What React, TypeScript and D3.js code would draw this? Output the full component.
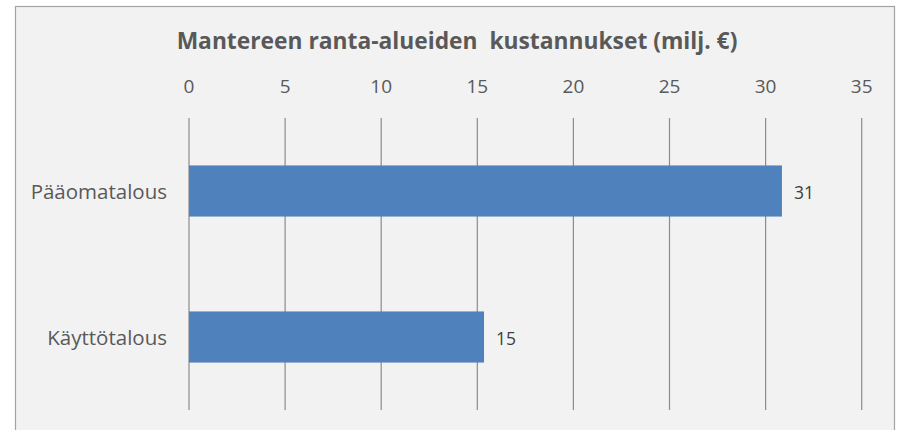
import React from "react";
import * as d3 from "d3";

// chart values
const categories = ["Pääomatalous", "Käyttötalous"];
const values = [30.85, 15.35];
const xTicks = [0, 5, 10, 15, 20, 25, 30, 35];
const title = "Mantereen ranta-alueiden\u00a0 kustannukset (milj. €)";

const W = 901;
const H = 430;
const font = "'Open Sans', 'Liberation Sans', sans-serif";

export default function App() {
  // plot area
  const left = 189;
  const right = 861.7;
  const top = 118;
  const bottom = 410;

  const x = d3.scaleLinear().domain([0, 35]).range([left, right]);
  const y = d3.scaleBand<string>().domain(categories).range([top, bottom]).padding(0);
  const barH = y.bandwidth() * 0.35;
  const fmt = d3.format(".0f");

  return (
    <svg
      width={W}
      height={H}
      style={{ position: "absolute", left: 0, top: 0, fontFamily: font }}
    >
      <rect x={0} y={0} width={W} height={H} fill="#ffffff" />
      {/* chart box */}
      <rect x={15.5} y={6.5} width={879} height={440} fill="#f2f2f2" stroke="#a3a3a3" strokeWidth={1.2} />

      {/* title */}
      <text
        x={457}
        y={49}
        textAnchor="middle"
        fontSize={22.8}
        fontWeight="bold"
        fill="#595959"
        style={{ whiteSpace: "pre" }}
      >
        {title}
      </text>

      {/* vertical grid lines + top tick labels */}
      {xTicks.map((t) => (
        <g key={t}>
          <line x1={x(t)} x2={x(t)} y1={top} y2={bottom} stroke="#8c8c8c" strokeWidth={1.2} />
          <text x={x(t)} y={93} textAnchor="middle" fontSize={19} fill="#595959">
            {t}
          </text>
        </g>
      ))}

      {/* bars */}
      {categories.map((c, i) => {
        const cy = (y(c) ?? 0) + y.bandwidth() / 2;
        return (
          <g key={c}>
            <rect
              x={x(0)}
              y={cy - barH / 2}
              width={x(values[i]) - x(0)}
              height={barH}
              fill="#4f81bd"
            />
            <text x={167} y={cy} textAnchor="end" dominantBaseline="central" fontSize={20.5} fill="#595959">
              {c}
            </text>
            <text x={x(values[i]) + 12} y={cy + 1} dominantBaseline="central" fontSize={17.5} fill="#404040">
              {fmt(values[i])}
            </text>
          </g>
        );
      })}
    </svg>
  );
}
